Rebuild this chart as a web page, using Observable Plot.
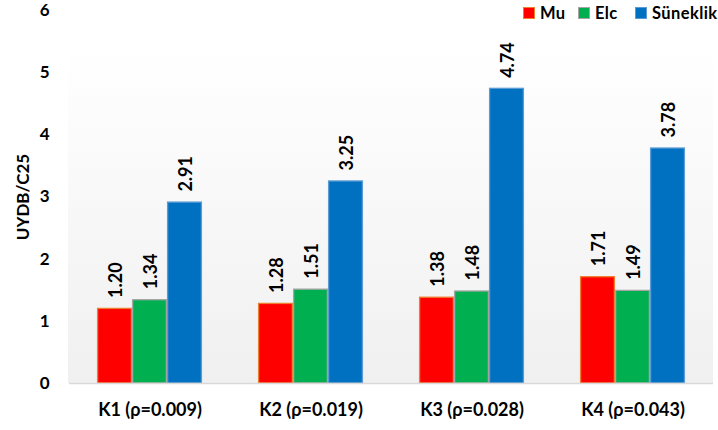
<!DOCTYPE html>
<html><head><meta charset="utf-8">
<script src="https://cdn.jsdelivr.net/npm/d3@7"></script>
<script src="https://cdn.jsdelivr.net/npm/@observablehq/plot@0.6"></script>
<style>
body{margin:0;background:#fff;}
#wrap{position:relative;width:718px;height:430px;font-family:Lato,"Open Sans",sans-serif;font-weight:700;}
#legend{position:absolute;z-index:2;top:3px;left:523px;display:flex;align-items:center;font-size:16.5px;letter-spacing:0.4px;white-space:nowrap;}
#legend .sw{display:inline-block;width:10px;height:10px;margin-right:5px;border:1px solid;}
#legend .it{display:flex;align-items:center;}
#legend .it0{width:55px;} #legend .it1{width:57px;}
</style></head>
<body><div id="wrap"><div id="legend"></div></div>
<script>
const categories = ["K1 (ρ=0.009)", "K2 (ρ=0.019)", "K3 (ρ=0.028)", "K4 (ρ=0.043)"];
const seriesNames = ["Mu", "Elc", "Süneklik"];
const muValues = [1.20, 1.28, 1.38, 1.71];
const elcValues = [1.34, 1.51, 1.48, 1.49];
const sunValues = [2.91, 3.25, 4.74, 3.78];
const yTicks = [0, 1, 2, 3, 4, 5, 6];
const fills = ["#FF0000", "#00B050", "#0070C0"];
const strokes = ["#ED7D31", "#A5A5A5", "#5B9BD5"];

const seriesValues = [muValues, elcValues, sunValues];
const data = [];
categories.forEach((c, i) => seriesNames.forEach((s, j) => data.push({cat: c, series: s, value: seriesValues[j][i]})));

const font = "Lato, 'Open Sans', sans-serif";
const chart = Plot.plot({
  width: 718, height: 430,
  marginTop: 10, marginBottom: 47, marginLeft: 68, marginRight: 5,
  style: {fontFamily: font, fontWeight: 700, fontSize: "17px", color: "#000", background: "transparent", overflow: "visible"},
  fx: {domain: categories, padding: 0, label: null, axis: null},
  x: {domain: seriesNames, axis: null, paddingInner: 0, paddingOuter: 0.76},
  y: {domain: [0, 6], ticks: yTicks, tickSize: 0, tickPadding: 20, label: "UYDB/C25", labelAnchor: "center", labelOffset: 53, labelArrow: "none", tickFormat: d => String(d)},
  color: {domain: seriesNames, range: fills},
  marks: [
    Plot.barY(data, {fx: "cat", x: "series", y: "value", fill: "series",
      stroke: d => strokes[seriesNames.indexOf(d.series)], strokeWidth: 1.3, insetLeft: 0.6, insetRight: 0.6}),
    Plot.ruleY([0], {stroke: "#D9D9D9", strokeWidth: 1.5}),
    Plot.text(data, {fx: "cat", x: "series", y: "value", text: d => d.value.toFixed(2),
      rotate: -90, textAnchor: "start", dy: -11, dx: 1, fontSize: 18, fontWeight: 700, fill: "#000"}),
    Plot.axisFx({anchor: "bottom", label: null, tickSize: 0, tickPadding: 20, fontSize: 18, fontWeight: 700})
  ]
});

// subtle gradient plot background
const svg = d3.select(chart);
const defs = svg.insert("defs", ":first-child");
const g = defs.append("linearGradient").attr("id", "bgGrad").attr("x1", 0).attr("y1", 0).attr("x2", 0).attr("y2", 1);
g.append("stop").attr("offset", "0.1").attr("stop-color", "#FFFFFF");
g.append("stop").attr("offset", "1").attr("stop-color", "#F0F0F0");
svg.insert("rect", "defs + *").attr("x", 68).attr("y", 10).attr("width", 718 - 68 - 5).attr("height", 383 - 10).attr("fill", "url(#bgGrad)");

document.getElementById("wrap").appendChild(chart);
chart.style.position = "absolute"; chart.style.left = "0"; chart.style.top = "0"; chart.style.zIndex = "1";

const legend = d3.select("#legend");
seriesNames.forEach((s, i) => {
  const it = legend.append("span").attr("class", "it it" + i);
  it.append("span").attr("class", "sw").style("background", fills[i]).style("border-color", strokes[i]);
  it.append("span").text(s);
});
</script></body></html>
